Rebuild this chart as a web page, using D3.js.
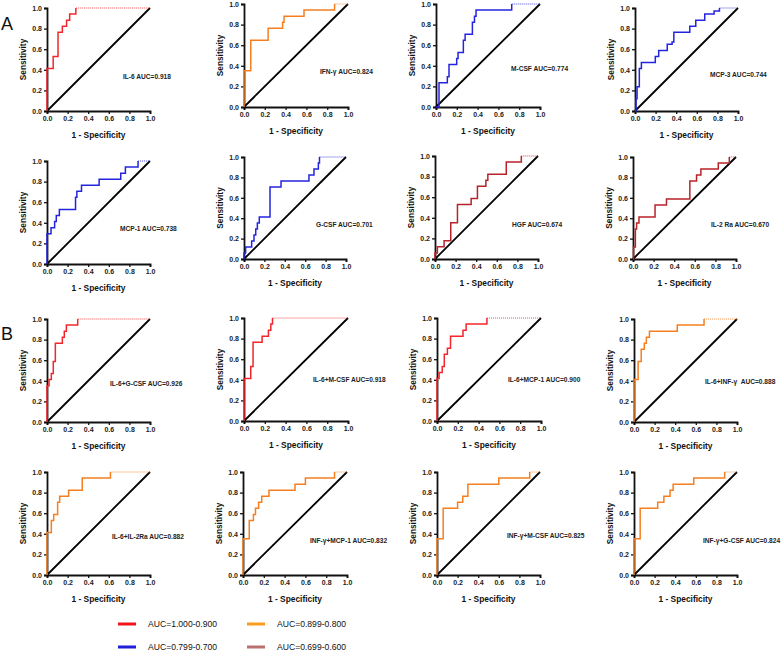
<!DOCTYPE html>
<html><head><meta charset="utf-8">
<script src="https://cdn.jsdelivr.net/npm/d3@7"></script>
<style>
html,body{margin:0;padding:0;background:#fff;}
text{font-family:"Liberation Sans",Arial,sans-serif;}
</style></head>
<body><svg id="chart" width="783" height="651"></svg>
<script>
// ---------- DATA (ROC points: [1 - specificity, sensitivity]) ----------
const roc_IL6 = [[0,0],[0,0.412],[0.06,0.412],[0.06,0.529],[0.107,0.529],[0.107,0.765],[0.149,0.765],[0.149,0.824],[0.19,0.824],[0.19,0.882],[0.22,0.882],[0.22,0.941],[0.28,0.941],[0.28,1],[1,1]];
const roc_IFN = [[0,0],[0,0.353],[0.065,0.353],[0.065,0.647],[0.232,0.647],[0.232,0.765],[0.371,0.765],[0.371,0.824],[0.385,0.824],[0.385,0.882],[0.577,0.882],[0.577,0.941],[0.871,0.941],[0.871,1],[1,1]];
const roc_MCSF = [[0,0],[0.029,0],[0.029,0.235],[0.109,0.235],[0.109,0.294],[0.125,0.294],[0.125,0.412],[0.199,0.412],[0.199,0.471],[0.212,0.471],[0.212,0.529],[0.263,0.529],[0.263,0.647],[0.28,0.647],[0.28,0.706],[0.35,0.706],[0.35,0.824],[0.37,0.824],[0.37,0.882],[0.385,0.882],[0.385,0.941],[0.728,0.941],[0.728,1],[1,1]];
const roc_MCP3 = [[0,0],[0.01,0],[0.01,0.118],[0.02,0.118],[0.02,0.235],[0.042,0.235],[0.042,0.412],[0.062,0.412],[0.062,0.471],[0.197,0.471],[0.197,0.529],[0.23,0.529],[0.23,0.588],[0.313,0.588],[0.313,0.647],[0.36,0.647],[0.36,0.671],[0.377,0.671],[0.377,0.765],[0.532,0.765],[0.532,0.824],[0.59,0.824],[0.59,0.882],[0.677,0.882],[0.677,0.941],[0.768,0.941],[0.768,0.97],[0.82,0.97],[0.82,1],[1,1]];
const roc_MCP1 = [[0,0],[0,0.294],[0.039,0.294],[0.039,0.353],[0.074,0.353],[0.074,0.412],[0.09,0.412],[0.09,0.471],[0.12,0.471],[0.12,0.529],[0.277,0.529],[0.277,0.647],[0.29,0.647],[0.29,0.706],[0.335,0.706],[0.335,0.765],[0.506,0.765],[0.506,0.824],[0.716,0.824],[0.716,0.882],[0.761,0.882],[0.761,0.941],[0.884,0.941],[0.884,1],[1,1]];
const roc_GCSF = [[0,0],[0,0.059],[0.016,0.059],[0.016,0.118],[0.075,0.118],[0.075,0.176],[0.098,0.176],[0.098,0.235],[0.115,0.235],[0.115,0.294],[0.131,0.294],[0.131,0.353],[0.15,0.353],[0.15,0.412],[0.255,0.412],[0.255,0.706],[0.363,0.706],[0.363,0.765],[0.637,0.765],[0.637,0.824],[0.686,0.824],[0.686,0.882],[0.729,0.882],[0.729,0.941],[0.74,0.941],[0.74,1],[1,1]];
const roc_HGF = [[0,0],[0,0.059],[0.023,0.059],[0.023,0.118],[0.088,0.118],[0.088,0.176],[0.153,0.176],[0.153,0.353],[0.218,0.353],[0.218,0.529],[0.351,0.529],[0.351,0.588],[0.412,0.588],[0.412,0.706],[0.494,0.706],[0.494,0.765],[0.513,0.765],[0.513,0.824],[0.692,0.824],[0.692,0.941],[0.838,0.941],[0.838,1],[1,1]];
const roc_IL2Ra = [[0,0],[0.005,0],[0.005,0.118],[0.023,0.118],[0.023,0.294],[0.035,0.294],[0.035,0.353],[0.058,0.353],[0.058,0.412],[0.214,0.412],[0.214,0.529],[0.325,0.529],[0.325,0.588],[0.552,0.588],[0.552,0.765],[0.617,0.765],[0.617,0.824],[0.659,0.824],[0.659,0.882],[0.828,0.882],[0.828,0.941],[0.935,0.941],[0.935,1],[1,1]];
const roc_IL6_GCSF = [[0,0],[0,0.353],[0.02,0.353],[0.02,0.412],[0.042,0.412],[0.042,0.471],[0.061,0.471],[0.061,0.588],[0.081,0.588],[0.081,0.765],[0.149,0.765],[0.149,0.824],[0.168,0.824],[0.168,0.882],[0.188,0.882],[0.188,0.941],[0.298,0.941],[0.298,1],[1,1]];
const roc_IL6_MCSF = [[0,0],[0,0.412],[0.065,0.412],[0.065,0.529],[0.087,0.529],[0.087,0.765],[0.174,0.765],[0.174,0.824],[0.235,0.824],[0.235,0.882],[0.258,0.882],[0.258,0.941],[0.274,0.941],[0.274,1],[1,1]];
const roc_IL6_MCP1 = [[0,0],[0,0.412],[0.02,0.412],[0.02,0.471],[0.05,0.471],[0.05,0.529],[0.07,0.529],[0.07,0.647],[0.1,0.647],[0.1,0.706],[0.13,0.706],[0.13,0.824],[0.25,0.824],[0.25,0.882],[0.28,0.882],[0.28,0.941],[0.48,0.941],[0.48,1],[1,1]];
const roc_IL6_INF = [[0,0],[0,0.412],[0.04,0.412],[0.04,0.588],[0.07,0.588],[0.07,0.706],[0.1,0.706],[0.1,0.765],[0.12,0.765],[0.12,0.824],[0.15,0.824],[0.15,0.882],[0.42,0.882],[0.42,0.941],[0.68,0.941],[0.68,1],[1,1]];
const roc_IL6_IL2Ra = [[0,0],[0,0.412],[0.042,0.412],[0.042,0.529],[0.065,0.529],[0.065,0.588],[0.103,0.588],[0.103,0.706],[0.123,0.706],[0.123,0.765],[0.21,0.765],[0.21,0.824],[0.342,0.824],[0.342,0.941],[0.616,0.941],[0.616,1],[1,1]];
const roc_INF_MCP1 = [[0,0],[0,0.353],[0.06,0.353],[0.06,0.529],[0.1,0.529],[0.1,0.588],[0.12,0.588],[0.12,0.647],[0.15,0.647],[0.15,0.706],[0.18,0.706],[0.18,0.765],[0.25,0.765],[0.25,0.824],[0.5,0.824],[0.5,0.882],[0.6,0.882],[0.6,0.941],[0.88,0.941],[0.88,1],[1,1]];
const roc_INF_MCSF = [[0,0],[0,0.353],[0.06,0.353],[0.06,0.647],[0.2,0.647],[0.2,0.706],[0.25,0.706],[0.25,0.765],[0.3,0.765],[0.3,0.882],[0.6,0.882],[0.6,0.941],[0.9,0.941],[0.9,1],[1,1]];
const roc_INF_GCSF = [[0,0],[0,0.353],[0.06,0.353],[0.06,0.647],[0.23,0.647],[0.23,0.706],[0.29,0.706],[0.29,0.765],[0.35,0.765],[0.35,0.824],[0.38,0.824],[0.38,0.882],[0.58,0.882],[0.58,0.941],[0.88,0.941],[0.88,1],[1,1]];

const panelLabels = ["IL-6 AUC=0.918","IFN-γ AUC=0.824","M-CSF AUC=0.774","MCP-3 AUC=0.744",
  "MCP-1 AUC=0.738","G-CSF AUC=0.701","HGF AUC=0.674","IL-2 Ra AUC=0.670",
  "IL-6+G-CSF AUC=0.926","IL-6+M-CSF AUC=0.918","IL-6+MCP-1 AUC=0.900","IL-6+INF-γ  AUC=0.888",
  "IL-6+IL-2Ra AUC=0.882","INF-γ+MCP-1 AUC=0.832","INF-γ+M-CSF AUC=0.825","INF-γ+G-CSF AUC=0.824"];
const panelData = [roc_IL6, roc_IFN, roc_MCSF, roc_MCP3, roc_MCP1, roc_GCSF, roc_HGF, roc_IL2Ra,
  roc_IL6_GCSF, roc_IL6_MCSF, roc_IL6_MCP1, roc_IL6_INF, roc_IL6_IL2Ra, roc_INF_MCP1, roc_INF_MCSF, roc_INF_GCSF];
const panelGroup = [0,1,2,2, 2,2,3,3, 0,0,0,1, 1,1,1,1]; // AUC class index
const tickValues = [0,0.2,0.4,0.6,0.8,1.0];
const legendLabels = ["AUC=1.000-0.900","AUC=0.899-0.800","AUC=0.799-0.700","AUC=0.699-0.600"];

// ---------- STYLE / LAYOUT ----------
const curveColors = ["#f2262b","#f57f20","#2424e0","#b8232a"];
const legendColors = ["#f2141b","#f99d1c","#1f1fd6","#b9706e"];
// [x0, top, width, height, labelDx, labelDy]
const layout = [
  [47,8,103,103,76,68],[244,4,104,103,76,67],[436,4,104,103,75,64],[635,8,103,103,75,66],
  [47,161,103,103,73,67],[244,157,102,102,72,67],[435,156,103,103,77,68],[633,157,103,102,78,67],
  [47,319,103,103,63,64],[244,318,104,103,69,61],[437,318,104,103,71,61],[634,319,103,103,71,62],
  [47,472,103,103,65,64],[243,472,104,103,67,68],[437,472,103,103,70,63],[634,472,103,103,69,68]
];

const svg = d3.select("#chart");
svg.append("rect").attr("width",783).attr("height",651).attr("fill","#fff");

panelData.forEach((pts, i) => {
  const [x0, y0, w, h, ldx, ldy] = layout[i];
  const g = svg.append("g").attr("transform", `translate(${x0},${y0})`);
  const x = d3.scaleLinear().domain([0,1]).range([0,w]);
  const y = d3.scaleLinear().domain([0,1]).range([h,0]);

  const xa = g.append("g").attr("transform",`translate(0,${h})`)
    .call(d3.axisBottom(x).tickValues(tickValues).tickFormat(d3.format(".1f")).tickSize(3).tickPadding(2));
  const ya = g.append("g")
    .call(d3.axisLeft(y).tickValues(tickValues).tickFormat(d3.format(".1f")).tickSize(3).tickPadding(2));
  [xa, ya].forEach(a => {
    a.select(".domain").attr("stroke","#111").attr("stroke-width",1.8);
    a.selectAll(".tick line").attr("stroke","#111").attr("stroke-width",1.3);
    a.selectAll(".tick text").attr("fill","#222").style("font-size","7px").style("font-weight","bold");
  });

  // reference diagonal
  g.append("line").attr("x1",x(0)).attr("y1",y(0)).attr("x2",x(1)).attr("y2",y(1))
    .attr("stroke","#000").attr("stroke-width",1.8);

  const line = d3.line().x(d => x(d[0])).y(d => y(d[1]));
  const col = curveColors[panelGroup[i]];
  g.append("path").datum(pts.slice(0,-1)).attr("d",line)
    .attr("fill","none").attr("stroke",col).attr("stroke-width",1.5);
  g.append("path").datum(pts.slice(-2)).attr("d",line)
    .attr("fill","none").attr("stroke",col).attr("stroke-width",1.3)
    .attr("stroke-dasharray","1,1").attr("opacity",0.55);

  // axis titles
  g.append("text").attr("x",w/2).attr("y",h+27).attr("text-anchor","middle")
    .style("font-size","8.4px").style("font-weight","bold").attr("fill","#111").text("1 - Specificity");
  g.append("text").attr("transform",`translate(-21,${h/2}) rotate(-90)`).attr("text-anchor","middle")
    .style("font-size","8.3px").style("font-weight","bold").attr("fill","#111").text("Sensitivity");

  // AUC label
  g.append("text").attr("x",ldx).attr("y",ldy+2.5).attr("fill","#222")
    .style("font-size","6.6px").style("font-weight","bold").style("white-space","pre")
    .text(panelLabels[i]);
});

// section letters
svg.append("text").attr("x",1).attr("y",30).style("font-size","18px").attr("fill","#111").text("A");
svg.append("text").attr("x",1).attr("y",340).style("font-size","18px").attr("fill","#111").text("B");

// legend
const legPos = [[118,624],[247,624],[118,647],[247,647]];
legendLabels.forEach((lab, i) => {
  const [lx, ly] = legPos[i];
  svg.append("line").attr("x1",lx).attr("x2",lx+18).attr("y1",ly).attr("y2",ly)
    .attr("stroke",legendColors[i]).attr("stroke-width",3);
  svg.append("text").attr("x",lx+30).attr("y",ly+3).style("font-size","8.6px").attr("fill","#111").text(lab);
});
</script></body></html>
